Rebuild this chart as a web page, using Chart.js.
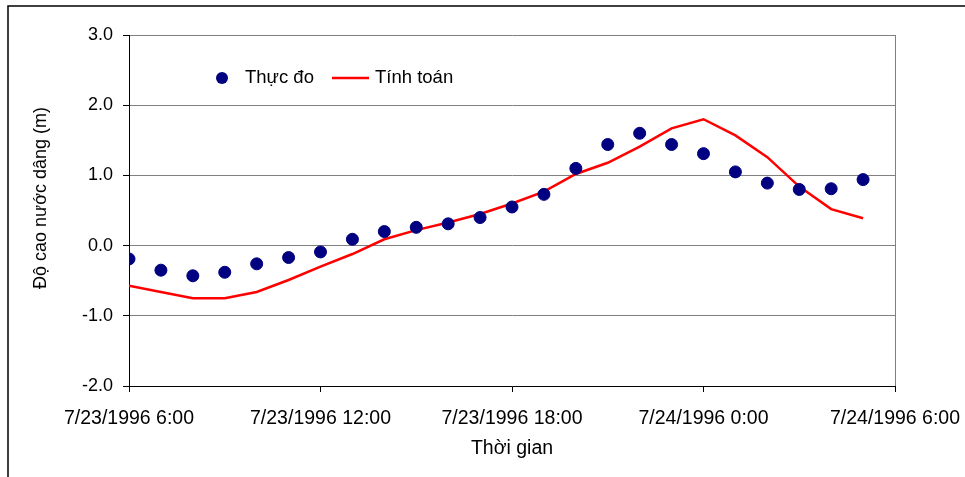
<!DOCTYPE html>
<html>
<head>
<meta charset="utf-8">
<script src="https://cdn.jsdelivr.net/npm/chart.js@4/dist/chart.umd.min.js"></script>
<style>
  html, body { margin: 0; padding: 0; background: #fff; }
  #wrap { width: 965px; height: 477px; }
</style>
</head>
<body>
<div id="wrap"><canvas id="waterChart" width="965" height="477"></canvas></div>
<script>
// hours after 7/23/1996 6:00
const hours = [0, 1, 2, 3, 4, 5, 6, 7, 8, 9, 10, 11, 12, 13, 14, 15, 16, 17, 18, 19, 20, 21, 22, 23];
const measured = [-0.19, -0.35, -0.43, -0.38, -0.26, -0.17, -0.09, 0.09, 0.20, 0.26, 0.31, 0.40,
                  0.55, 0.73, 1.10, 1.44, 1.60, 1.44, 1.31, 1.05, 0.89, 0.80, 0.81, 0.94];
const computed = [-0.57, -0.66, -0.75, -0.75, -0.66, -0.49, -0.30, -0.12, 0.09, 0.22, 0.33, 0.45,
                  0.60, 0.77, 1.02, 1.18, 1.41, 1.67, 1.80, 1.57, 1.26, 0.84, 0.52, 0.39];
const tickHours = [0, 6, 12, 18, 24];
const tickLabels = ["7/23/1996 6:00", "7/23/1996 12:00", "7/23/1996 18:00", "7/24/1996 0:00", "7/24/1996 6:00"];
const seriesNames = ["Thực đo", "Tính toán"];
const yTitle = "Độ cao nước dâng (m)";

const FONT = "'Liberation Sans', Arial, sans-serif";
const PAD_LEFT = 12, PAD_BOTTOM = 10;

const ctx = document.getElementById("waterChart").getContext("2d");

// outer frame, right border of plot, y title and legend inside plot
const decor = {
  id: "decor",
  beforeDraw(chart) {
    const c = chart.ctx;
    c.save();
    c.fillStyle = "#fff";
    c.fillRect(0, 0, chart.width, chart.height);
    c.strokeStyle = "#000";
    c.lineWidth = 1.5;
    c.beginPath();
    c.moveTo(8, chart.height);
    c.lineTo(8, 6);
    c.lineTo(chart.width, 6);
    c.stroke();
    c.restore();
  },
  afterDraw(chart) {
    const a = chart.chartArea;
    const c = chart.ctx;
    c.save();
    c.strokeStyle = "#808080";
    c.lineWidth = 1;
    c.beginPath();
    c.moveTo(Math.round(a.right) + 0.5, a.top);
    c.lineTo(Math.round(a.right) + 0.5, a.bottom);
    c.stroke();

    // y axis title (sits a little above the plot centre, like the original)
    c.save();
    c.translate(41, 198);
    c.rotate(-Math.PI / 2);
    c.font = "18px " + FONT;
    c.fillStyle = "#000";
    c.textAlign = "center";
    c.textBaseline = "middle";
    c.fillText(yTitle, 0, 0);
    c.restore();

    // legend
    const ly = 78;
    c.font = "18.5px " + FONT;
    c.textBaseline = "middle";
    c.fillStyle = "#000080";
    c.beginPath();
    c.arc(222, ly, 6, 0, Math.PI * 2);
    c.fill();
    c.fillStyle = "#000";
    c.fillText(chart.data.datasets[0].label, 245, ly);
    c.strokeStyle = "#ff0000";
    c.lineWidth = 2.5;
    c.beginPath();
    c.moveTo(332, ly);
    c.lineTo(369, ly);
    c.stroke();
    c.fillText(chart.data.datasets[1].label, 375, ly);
    c.restore();
  }
};

new Chart(ctx, {
  type: "scatter",
  data: {
    datasets: [
      {
        label: seriesNames[0],
        data: hours.map((h, i) => ({ x: h, y: measured[i] })),
        backgroundColor: "#000080",
        borderColor: "#000080",
        pointRadius: 6,
        pointHoverRadius: 6,
        showLine: false,
        order: 1
      },
      {
        label: seriesNames[1],
        data: hours.map((h, i) => ({ x: h, y: computed[i] })),
        borderColor: "#ff0000",
        backgroundColor: "#ff0000",
        borderWidth: 2.5,
        pointRadius: 0,
        showLine: true,
        tension: 0,
        order: 2
      }
    ]
  },
  options: {
    responsive: false,
    animation: false,
    devicePixelRatio: 1,
    layout: { padding: { left: PAD_LEFT, top: 35, right: 70, bottom: PAD_BOTTOM } },
    plugins: {
      legend: { display: false },
      tooltip: { enabled: false }
    },
    scales: {
      x: {
        type: "linear",
        min: 0,
        max: 24,
        afterBuildTicks: scale => { scale.ticks = tickHours.map(v => ({ value: v })); },
        afterFit: scale => {
          scale.height = 477 - 386 - PAD_BOTTOM;
          // labels may hang past the plot edges, the layout padding covers it
          scale.paddingLeft = 0;
          scale.paddingRight = 0;
        },
        ticks: {
          callback: v => tickLabels[tickHours.indexOf(v)],
          color: "#000",
          font: { family: FONT, size: 19.5 },
          padding: 15,
          maxRotation: 0,
          autoSkip: false
        },
        grid: { drawOnChartArea: false, drawTicks: true, tickLength: 6, tickColor: "#000" },
        border: { color: "#000", width: 1 },
        title: {
          display: true,
          text: "Thời gian",
          color: "#000",
          font: { family: FONT, size: 19.5 },
          padding: { top: 0, bottom: 7 }
        }
      },
      y: {
        min: -2,
        max: 3,
        afterFit: scale => { scale.width = 129 - PAD_LEFT; },
        ticks: {
          stepSize: 1,
          callback: v => v.toFixed(1),
          color: "#000",
          font: { family: FONT, size: 18 },
          padding: 10
        },
        grid: { color: "#808080", tickLength: 6, tickColor: "#000" },
        border: { color: "#000", width: 1 }
      }
    }
  },
  plugins: [decor]
});
</script>
</body>
</html>
